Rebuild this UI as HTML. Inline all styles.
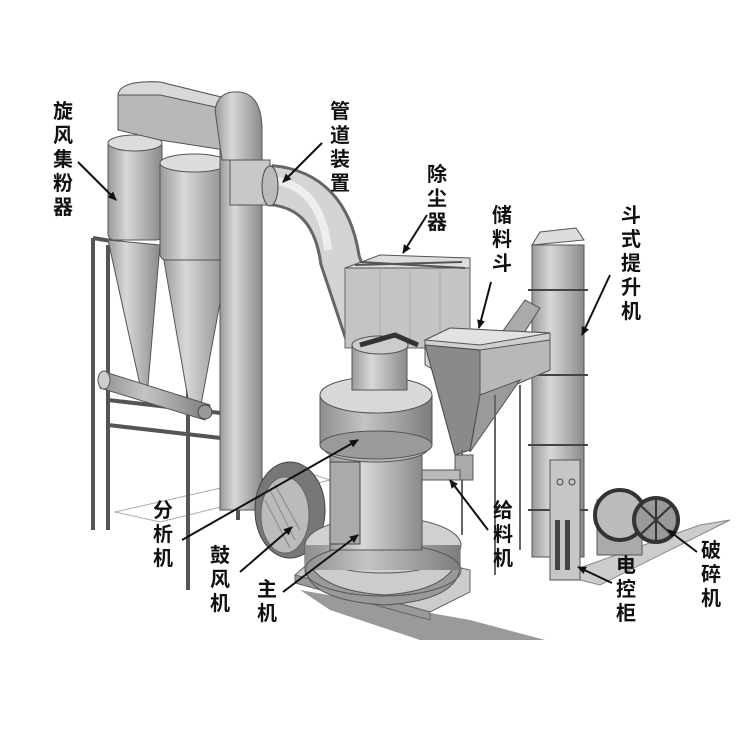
<!DOCTYPE html>
<html><head><meta charset="utf-8"><style>
html,body{margin:0;padding:0;background:#fff;}
svg{display:block}
.t{font-family:"Liberation Sans","Noto Sans CJK SC",sans-serif;font-size:20px;font-weight:bold;fill:#111;text-anchor:middle}
</style></head><body>
<svg width="750" height="750" viewBox="0 0 750 750" xmlns="http://www.w3.org/2000/svg">
<defs>
<marker id="a" markerWidth="10" markerHeight="10" refX="8" refY="5" orient="auto" markerUnits="userSpaceOnUse"><path d="M0,1 L9,5 L0,9 Z" fill="#111"/></marker>
<linearGradient id="cy" x1="0" x2="1"><stop offset="0" stop-color="#9a9a9a"/><stop offset=".35" stop-color="#d8d8d8"/><stop offset="1" stop-color="#8a8a8a"/></linearGradient>
<linearGradient id="cy2" x1="0" x2="1"><stop offset="0" stop-color="#8f8f8f"/><stop offset=".4" stop-color="#c4c4c4"/><stop offset="1" stop-color="#7d7d7d"/></linearGradient>
</defs>
<!-- floor -->
<polygon points="115,512 300,470 330,480 160,522" fill="none" stroke="#aaa"/>
<polygon points="300,590 470,620 545,640 420,640 330,610" fill="#9a9a9a"/>
<polygon points="560,575 700,525 730,520 600,585" fill="#ccc" stroke="#888"/>
<!-- frame -->
<g stroke="#555" stroke-width="4" fill="none">
<line x1="93" y1="238" x2="93" y2="530"/><line x1="108" y1="245" x2="108" y2="530"/>
<line x1="188" y1="262" x2="188" y2="590"/><line x1="238" y1="262" x2="238" y2="520"/>
<line x1="93" y1="238" x2="240" y2="262"/><line x1="108" y1="400" x2="238" y2="415"/><line x1="108" y1="425" x2="238" y2="440"/>
</g>
<!-- cyclones -->
<polygon points="108,240 160,245 148,385 140,385" fill="url(#cy)" stroke="#555"/>
<polygon points="163,255 228,260 200,410 190,410" fill="url(#cy)" stroke="#555"/>
<rect x="108" y="140" width="54" height="100" rx="6" fill="url(#cy)" stroke="#555"/>
<ellipse cx="135" cy="143" rx="27" ry="8" fill="#ddd" stroke="#555"/>
<rect x="160" y="160" width="68" height="100" rx="6" fill="url(#cy)" stroke="#555"/>
<ellipse cx="194" cy="163" rx="34" ry="9" fill="#ddd" stroke="#555"/>
<path d="M118,95 Q120,80 160,82 L225,98 L225,150 L160,140 L118,130 Z" fill="#b8b8b8" stroke="#555"/>
<path d="M118,95 Q120,80 160,82 L225,98 L220,108 L160,95 Z" fill="#d8d8d8" stroke="#555"/>
<!-- horizontal pipe -->
<polygon points="105,372 210,405 205,420 100,388" fill="url(#cy2)" stroke="#555"/>
<ellipse cx="104" cy="380" rx="6" ry="9" fill="#ccc" stroke="#555"/>
<circle cx="205" cy="412" r="7" fill="#999" stroke="#444"/>
<!-- vertical pipe -->
<rect x="220" y="150" width="42" height="360" fill="url(#cy)" stroke="#555"/>
<path d="M215,110 Q218,90 240,92 Q262,95 262,130 L262,160 L222,160 Z" fill="url(#cy)" stroke="#555"/>
<rect x="230" y="160" width="40" height="45" fill="#c8c8c8" stroke="#555"/>
<!-- big elbow -->
<path d="M270,185 Q330,190 340,260 L365,335" fill="none" stroke="#666" stroke-width="42"/>
<path d="M270,185 Q330,190 340,260 L365,335" fill="none" stroke="#d4d4d4" stroke-width="36"/>
<path d="M262,180 Q320,178 328,250" fill="none" stroke="#eee" stroke-width="8"/>
<ellipse cx="270" cy="186" rx="8" ry="20" fill="#bbb" stroke="#444"/>
<!-- dust collector -->
<rect x="345" y="268" width="125" height="80" fill="#c4c4c4" stroke="#666"/>
<polygon points="345,268 380,255 470,258 470,268" fill="#ddd" stroke="#555"/>
<g stroke="#555" stroke-width="2"><line x1="360" y1="262" x2="465" y2="268"/><line x1="355" y1="265" x2="462" y2="262"/></g>
<g stroke="#aaa"><line x1="380" y1="270" x2="380" y2="345"/><line x1="410" y1="270" x2="410" y2="345"/><line x1="440" y1="270" x2="440" y2="345"/></g>
<!-- elevator -->
<rect x="532" y="245" width="52" height="312" fill="url(#cy)" stroke="#555"/>
<path d="M532,245 L540,232 L576,228 L584,240 Z" fill="#ddd" stroke="#555"/>
<g stroke="#444" stroke-width="2"><line x1="528" y1="290" x2="588" y2="290"/><line x1="528" y1="375" x2="588" y2="375"/><line x1="528" y1="445" x2="588" y2="445"/><line x1="528" y1="510" x2="588" y2="510"/></g>
<polygon points="500,335 525,300 540,308 518,342" fill="#aaa" stroke="#555"/>
<!-- hopper -->
<polygon points="425,340 450,328 550,333 550,370 480,395 425,365" fill="#d0d0d0" stroke="#555"/>
<polygon points="425,340 480,345 550,333 450,328" fill="#e2e2e2" stroke="#555"/>
<polygon points="425,345 480,350 480,395 470,450 455,455" fill="#8a8a8a" stroke="#444"/>
<polygon points="480,350 550,340 550,370 480,400" fill="#b8b8b8" stroke="#555"/>
<polygon points="480,395 520,380 470,452" fill="#9a9a9a" stroke="#555"/>
<g stroke="#666" stroke-width="2"><line x1="495" y1="395" x2="495" y2="575"/><line x1="520" y1="385" x2="520" y2="550"/><line x1="462" y1="450" x2="462" y2="535"/></g>
<rect x="455" y="455" width="18" height="25" fill="#aaa" stroke="#555"/>
<rect x="420" y="470" width="40" height="10" fill="#bbb" stroke="#555"/>
<!-- blower -->
<ellipse cx="290" cy="510" rx="35" ry="48" fill="#777" stroke="#444"/>
<ellipse cx="285" cy="515" rx="24" ry="38" fill="#bbb" stroke="#666"/>
<g stroke="#888"><line x1="270" y1="490" x2="295" y2="540"/><line x1="275" y1="485" x2="300" y2="530"/><line x1="265" y1="500" x2="290" y2="548"/></g>
<!-- main mill -->
<polygon points="295,575 430,612 470,592 470,570 335,540" fill="#ccc" stroke="#666"/>
<polygon points="295,575 430,612 430,620 295,583" fill="#999" stroke="#666"/>
<path d="M305,545 Q305,590 385,595 Q460,590 460,545 L460,565 Q460,600 385,605 Q305,600 305,565 Z" fill="#999" stroke="#555"/>
<ellipse cx="383" cy="545" rx="78" ry="28" fill="#d0d0d0" stroke="#555"/>
<rect x="305" y="545" width="155" height="25" fill="url(#cy2)"/>
<ellipse cx="383" cy="570" rx="78" ry="26" fill="none" stroke="#555"/>
<rect x="330" y="450" width="92" height="100" fill="url(#cy)" stroke="#555"/>
<rect x="330" y="462" width="30" height="82" fill="#aaa" stroke="#444"/>
<ellipse cx="376" cy="448" rx="52" ry="14" fill="#bbb" stroke="#555"/>
<rect x="320" y="395" width="112" height="50" fill="url(#cy2)" stroke="#555"/>
<ellipse cx="376" cy="445" rx="56" ry="14" fill="#9a9a9a" stroke="#555"/>
<ellipse cx="376" cy="395" rx="56" ry="18" fill="#d8d8d8" stroke="#555"/>
<rect x="352" y="345" width="55" height="45" fill="url(#cy)" stroke="#555"/>
<ellipse cx="380" cy="345" rx="28" ry="9" fill="#ccc" stroke="#555"/>
<path d="M360,345 L395,335 L418,345" stroke="#333" stroke-width="5" fill="none"/>
<!-- control cabinet -->
<rect x="550" y="460" width="30" height="120" fill="#c6c6c6" stroke="#555"/>
<rect x="555" y="520" width="5" height="50" fill="#444"/><rect x="565" y="520" width="5" height="50" fill="#444"/>
<circle cx="560" cy="482" r="3" fill="none" stroke="#444"/><circle cx="572" cy="482" r="3" fill="none" stroke="#444"/>
<!-- crusher -->
<rect x="597" y="500" width="45" height="55" fill="#aaa" stroke="#555"/>
<circle cx="620" cy="515" r="25" fill="#bbb" stroke="#333" stroke-width="4"/>
<circle cx="656" cy="520" r="22" fill="#999" stroke="#333" stroke-width="4"/>
<g stroke="#333" stroke-width="2"><line x1="640" y1="505" x2="672" y2="535"/><line x1="672" y1="505" x2="640" y2="535"/><line x1="656" y1="498" x2="656" y2="542"/></g>
<!-- arrows -->
<g stroke="#111" stroke-width="2" marker-end="url(#a)">
<line x1="78" y1="162" x2="116" y2="200"/>
<line x1="322" y1="143" x2="283" y2="182"/>
<line x1="427" y1="215" x2="403" y2="253"/>
<line x1="491" y1="282" x2="479" y2="328"/>
<line x1="610" y1="275" x2="582" y2="335"/>
<line x1="182" y1="540" x2="358" y2="440"/>
<line x1="240" y1="572" x2="292" y2="527"/>
<line x1="283" y1="592" x2="358" y2="535"/>
<line x1="488" y1="530" x2="450" y2="480"/>
<line x1="612" y1="583" x2="578" y2="567"/>
<line x1="697" y1="552" x2="668" y2="530"/>
</g>
<!-- labels -->
<g class="t">
<text x="63" y="118">旋</text><text x="63" y="142">风</text><text x="63" y="166">集</text><text x="63" y="190">粉</text><text x="63" y="214">器</text>
<text x="340" y="118">管</text><text x="340" y="142">道</text><text x="340" y="166">装</text><text x="340" y="190">置</text>
<text x="437" y="181">除</text><text x="437" y="205">尘</text><text x="437" y="229">器</text>
<text x="502" y="222">储</text><text x="502" y="246">料</text><text x="502" y="270">斗</text>
<text x="631" y="222">斗</text><text x="631" y="246">式</text><text x="631" y="270">提</text><text x="631" y="294">升</text><text x="631" y="318">机</text>
<text x="163" y="517">分</text><text x="163" y="541">析</text><text x="163" y="565">机</text>
<text x="220" y="562">鼓</text><text x="220" y="586">风</text><text x="220" y="610">机</text>
<text x="267" y="596">主</text><text x="267" y="620">机</text>
<text x="503" y="517">给</text><text x="503" y="541">料</text><text x="503" y="565">机</text>
<text x="626" y="572">电</text><text x="626" y="596">控</text><text x="626" y="620">柜</text>
<text x="711" y="557">破</text><text x="711" y="581">碎</text><text x="711" y="605">机</text>
</g>
</svg>
</body></html>
